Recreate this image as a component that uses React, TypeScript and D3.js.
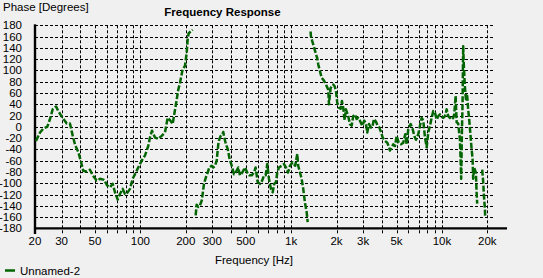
import React from "react";
import * as d3 from "d3";

// ---- data ----
const seg1Freq = [20.3, 21.6, 22.7, 24.1, 25.1, 26.2, 27.6, 28.5, 30.5, 32.5, 34.1, 35.6, 36.9, 38.8, 40.2, 41.8, 44.0, 46.3, 48.3, 51.3, 54.0, 57.4, 60.3, 62.9, 65.5, 67.9, 70.7, 73.2, 76.3, 79.1, 81.9, 85.3, 88.9, 92.1, 96.8, 102.0, 107.2, 112.8, 115.7, 119.4, 125.0, 131.5, 138.4, 145.6, 151.7, 157.1, 163.7, 167.0, 171.4, 178.4, 183.1, 190.7, 197.6, 202.8, 205.9, 209.1, 215.6, 222.3];
const seg1Phase = [-25, -10, -3, 0, 13, 31, 36, 28, 16, 6, 6, -16, -32, -45, -60, -78, -79, -76, -86, -95, -92, -94, -104, -107, -101, -116, -129, -119, -110, -119, -117, -110, -92, -84, -72, -60, -51, -34, -19, -7, -19, -21, -16, -10, 16, 12, 5, 19, 37, 66, 78, 102, 108, 131, 155, 166, 169, 172];

const seg2Freq = [232.6, 236.2, 242.1, 248.4, 255.0, 258.9, 264.1, 272.3, 279.5, 286.4, 297.1, 304.5, 312.5, 320.7, 328.6, 333.7, 340.9, 349.3, 354.7, 360.2, 369.6, 379.4, 388.7, 397.1, 406.9, 417.6, 428.5, 445.8, 457.5, 473.9, 493.8, 511.4, 527.3, 547.0, 566.6, 581.4, 599.5, 621.0, 643.2, 660.2, 677.5, 694.3, 712.5, 734.6, 753.9, 772.5, 792.8, 808.8, 830.0, 864.9, 896.0, 923.8, 952.4, 982.0, 1023, 1064, 1098, 1114, 1144, 1174, 1203, 1234, 1267, 1287];
const seg2Phase = [-157, -138, -142, -139, -131, -119, -101, -89, -81, -72, -69, -72, -69, -60, -31, -22, -16, -13, -9, -19, -31, -39, -54, -63, -72, -84, -81, -72, -86, -81, -72, -81, -86, -86, -81, -72, -98, -101, -95, -86, -86, -66, -92, -110, -116, -101, -98, -81, -72, -69, -66, -72, -81, -69, -63, -69, -48, -69, -81, -92, -110, -134, -151, -169];

const seg3Freq = [1346, 1352, 1380, 1423, 1453, 1489, 1512, 1552, 1593, 1650, 1701, 1762, 1781, 1828, 1902, 1943, 1982, 2021, 2075, 2129, 2172, 2215, 2263, 2308, 2391, 2454, 2518, 2581, 2649, 2719, 2786, 2860, 2962, 3054, 3135, 3198, 3282, 3368, 3452, 3542, 3653, 3749, 3842, 3943, 4046, 4191, 4341, 4435, 4524, 4643, 4758, 4883, 5011, 5167, 5352, 5542, 5713, 5837, 5981, 6205, 6397, 6556, 6728, 6968, 7152, 7340, 7522, 7720, 7923, 8119, 8333, 8552, 8764, 8994, 9231, 9459, 9708, 9963, 10210, 10480, 10750, 11020, 11300, 11600, 11890, 12070, 12330, 12520, 12820, 13160, 13300, 13420, 13570, 13710, 13770, 13840, 13980, 14200, 14420, 14710, 14930, 15170, 15490, 15730, 15970, 16120, 16370, 16800, 16980, 17140];
const seg3Phase = [169, 161, 152, 140, 131, 122, 111, 99, 87, 82, 75, 66, 40, 69, 75, 72, 64, 43, 34, 32, 46, 34, 12, 31, 19, 5, 2, 19, 22, 14, 16, 11, 2, 11, 5, -10, 5, -1, -1, 14, 9, 2, -1, -9, -19, -25, -28, -34, -42, -36, -31, -34, -16, -28, -31, -28, -13, -31, -4, 5, -4, -16, -23, -13, 2, 16, 11, -19, -36, -10, 2, 16, 28, 25, 13, 19, 22, 18, 16, 19, 31, 19, 16, 13, 16, 22, 55, 8, 6, -22, -57, -92, -10, 43, 96, 143, 108, 72, 49, 55, 31, 13, -16, -39, -57, -92, -72, -81, -116, -136];

const seg4Freq = [18500, 18790, 18990, 19280, 19370];
const seg4Phase = [-76, -98, -122, -145, -160];

const yTicks = [180, 160, 140, 120, 100, 80, 60, 40, 20, 0, -20, -40, -60, -80, -100, -120, -140, -160, -180];
const xGrid = [30, 40, 50, 60, 70, 80, 90, 100, 200, 300, 400, 500, 600, 700, 800, 900, 1000, 2000, 3000, 4000, 5000, 6000, 7000, 8000, 9000, 10000, 20000];
const xLabelValues = [20, 30, 50, 100, 200, 300, 500, 1000, 2000, 3000, 5000, 10000, 20000];
const xLabelTexts = ["20", "30", "50", "100", "200", "300", "500", "1k", "2k", "3k", "5k", "10k", "20k"];

const seriesName = "Unnamed-2";
const titleText = "Frequency Response";
const xTitle = "Frequency [Hz]";
const yTitle = "Phase [Degrees]";

const W = 543;
const H = 278;
const FONT = "'Liberation Sans', Arial, sans-serif";
const GREEN = "#006400";

export default function App() {
  React.useEffect(() => {
    document.body.style.margin = "0";
  }, []);

  const x = d3.scaleLog().domain([20, 20000]).range([35, 487.3]);
  const y = d3.scaleLinear().domain([-180, 180]).range([228.4, 25.3]);
  const gridRight = 493;
  const axisRight = 507;
  const tickBottom = 234;

  const line = d3
    .line<[number, number]>()
    .x((d) => x(d[0]))
    .y((d) => y(d[1]))
    .curve(d3.curveLinear);

  const segments: [number[], number[]][] = [
    [seg1Freq, seg1Phase],
    [seg2Freq, seg2Phase],
    [seg3Freq, seg3Phase],
    [seg4Freq, seg4Phase],
  ];

  return (
    <svg
      width={W}
      height={H}
      style={{ position: "absolute", left: 0, top: 0, display: "block" }}
      fontFamily={FONT}
    >
      <rect x={0} y={0} width={W} height={H} fill="#f0f0f0" />

      {/* horizontal grid */}
      {yTicks
        .filter((t) => t > -180)
        .map((t) => (
          <line
            key={"h" + t}
            x1={35}
            x2={gridRight}
            y1={Math.round(y(t)) + 0.5}
            y2={Math.round(y(t)) + 0.5}
            stroke="#000"
            strokeWidth={1}
            strokeDasharray="3,2"
          />
        ))}

      {/* vertical grid */}
      {xGrid.map((v) => (
        <line
          key={"v" + v}
          x1={Math.round(x(v)) + 0.5}
          x2={Math.round(x(v)) + 0.5}
          y1={y(180)}
          y2={tickBottom}
          stroke="#000"
          strokeWidth={1}
          strokeDasharray="3,2"
        />
      ))}

      {/* axes */}
      <line x1={35} x2={35} y1={y(180) - 1} y2={tickBottom} stroke="#000" strokeWidth={2.4} />
      <line x1={34} x2={axisRight} y1={y(-180)} y2={y(-180)} stroke="#000" strokeWidth={2.4} />

      {/* y tick labels */}
      {yTicks.map((t) => (
        <text
          key={"yl" + t}
          x={22}
          y={y(t)}
          dy="0.35em"
          textAnchor="end"
          fontSize={11.5}
          fill="#000"
        >
          {t}
        </text>
      ))}

      {/* x tick labels */}
      {xLabelValues.map((v, i) => (
        <text
          key={"xl" + v}
          x={x(v)}
          y={245}
          textAnchor="middle"
          fontSize={11.5}
          fill="#000"
        >
          {xLabelTexts[i]}
        </text>
      ))}

      {/* series */}
      <g clipPath="url(#plotclip)">
        {segments.map(([fs, ps], i) => (
          <path
            key={"s" + i}
            d={line(fs.map((f, j) => [f, ps[j]] as [number, number])) || ""}
            fill="none"
            stroke={GREEN}
            strokeWidth={2.5}
            strokeDasharray="6,2"
            strokeLinejoin="round"
          />
        ))}
      </g>
      <defs>
        <clipPath id="plotclip">
          <rect x={35} y={20} width={470} height={210} />
        </clipPath>
      </defs>

      {/* titles */}
      <text x={3} y={11} fontSize={11.5} fill="#000">
        {yTitle}
      </text>
      <text x={222.5} y={16} textAnchor="middle" fontSize={11.5} fontWeight="bold" fill="#000">
        {titleText}
      </text>
      <text x={254} y={264} textAnchor="middle" fontSize={11.5} fill="#000">
        {xTitle}
      </text>

      {/* legend */}
      <line x1={5} x2={15} y1={270.5} y2={270.5} stroke={GREEN} strokeWidth={2.5} />
      <text x={20} y={275} fontSize={11.5} fill="#000">
        {seriesName}
      </text>
    </svg>
  );
}
